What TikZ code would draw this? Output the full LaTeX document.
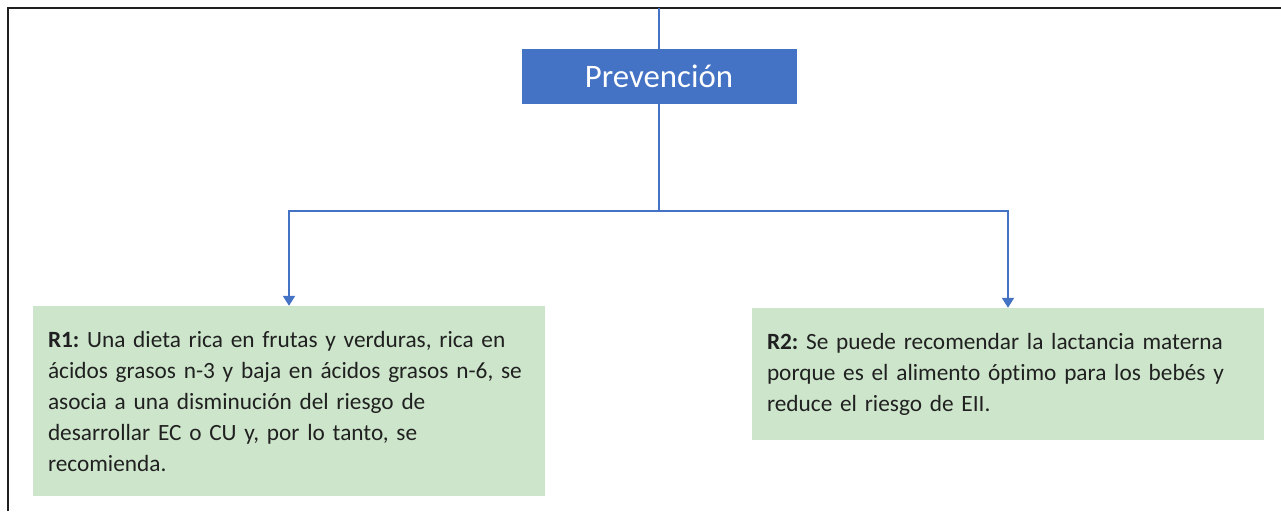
\documentclass[tikz,border=0pt]{standalone}
\usepackage{fontspec}
\setmainfont[Ligatures=NoCommon]{Carlito}
\usetikzlibrary{arrows.meta}
\definecolor{prevblue}{HTML}{4472C4}
\definecolor{recgreen}{HTML}{CDE6CB}
\definecolor{inkgray}{HTML}{202020}
\tikzset{
	link/.style={draw=prevblue, line width=2pt},
	arr/.style={link, -{Triangle[width=12pt,length=10pt]}},
	recbox/.style={fill=recgreen, minimum width=512pt, inner xsep=15pt, text width=482pt, align=left, text=inkgray, font=\fontsize{23.3}{31}\selectfont},
}
\frenchspacing
\begin{document}
\begin{tikzpicture}[x=1pt, y=-1pt]
			%%%%% START %%%%%
			\useasboundingbox (0, 0) rectangle (1281, 511);
			
			\draw[line width=2.5pt, color=inkgray] (8, 511) -- (8, 8) -- (1281, 8);
			
			\node[fill=prevblue, minimum width=275pt, minimum height=55pt, text=white, font=\fontsize{32.8}{36}\selectfont] (prev) at (659, 76.5) {Prevención};
			
			\node[recbox, minimum height=190pt] (r1) at (289, 401) {\textbf{R1:} Una dieta rica en frutas y verduras, rica en\\ácidos grasos n-3 y baja en ácidos grasos n-6, se\\asocia a una disminución del riesgo de\\desarrollar EC o CU y, por lo tanto, se\\recomienda.};
			\node[recbox, minimum height=132pt] (r2) at (1008, 374) {\textbf{R2:} Se puede recomendar la lactancia materna\\porque es el alimento óptimo para los bebés y\\reduce el riesgo de EII.};
			
			\coordinate (top) at (659, 8);
			\coordinate (split) at (659, 211);
			\draw[link] (top) -- (prev.north);
			\draw[link] (prev.south) -- (split);
			\draw[arr] (split) -| (r1.north);
			\draw[arr] (split) -| (r2.north);
			
			%%%%% END %%%%%
		\end{tikzpicture}
\end{document}
